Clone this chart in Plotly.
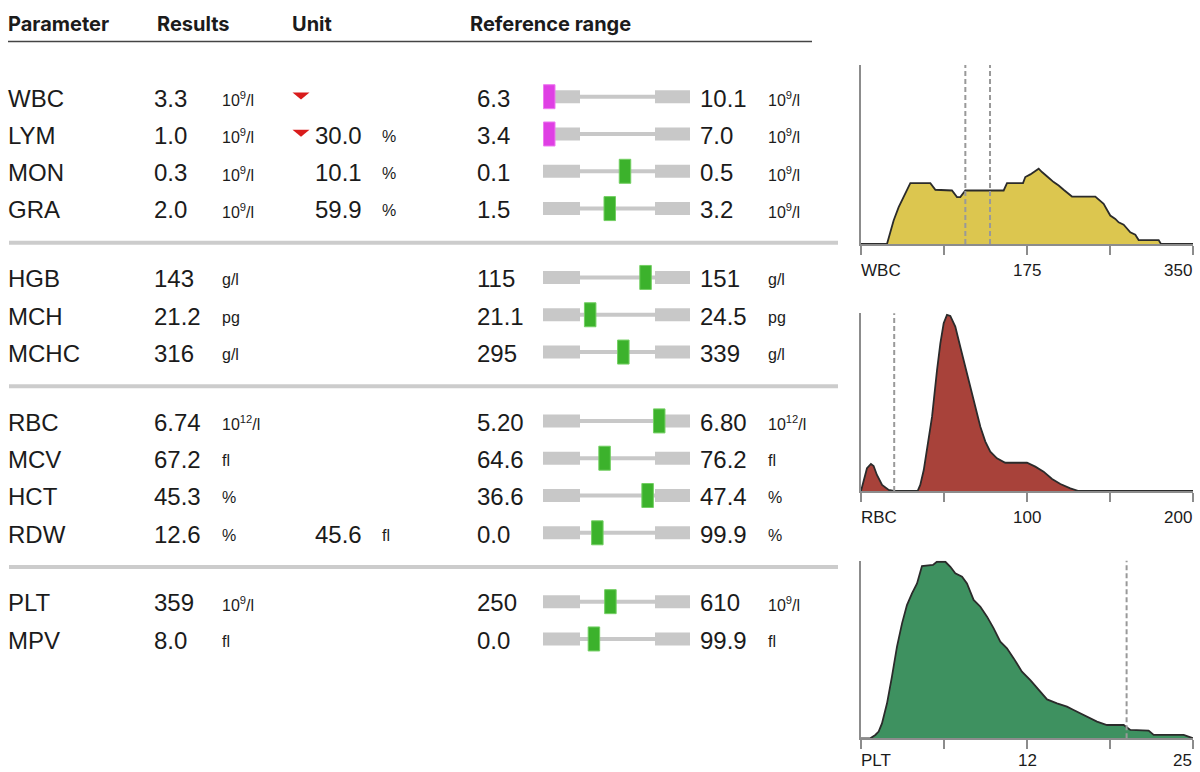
import plotly.graph_objects as go

# ---------------- data ----------------
params = ["WBC", "LYM", "MON", "GRA", "HGB", "MCH", "MCHC",
          "RBC", "MCV", "HCT", "RDW", "PLT", "MPV"]
groups = [0, 0, 0, 0, 1, 1, 1, 2, 2, 2, 2, 3, 3]
results = [3.3, 1.0, 0.3, 2.0, 143, 21.2, 316, 6.74, 67.2, 45.3, 12.6, 359, 8.0]
decimals = [1, 1, 1, 1, 0, 1, 0, 2, 1, 1, 1, 0, 1]
units = ["10<sup>9</sup>/l", "10<sup>9</sup>/l", "10<sup>9</sup>/l", "10<sup>9</sup>/l",
         "g/l", "pg", "g/l", "10<sup>12</sup>/l", "fl", "%", "%", "10<sup>9</sup>/l", "fl"]
second_values = [None, 30.0, 10.1, 59.9, None, None, None, None, None, None, 45.6, None, None]
second_units = [None, "%", "%", "%", None, None, None, None, None, None, "fl", None, None]
ref_low = [6.3, 3.4, 0.1, 1.5, 115, 21.1, 295, 5.20, 64.6, 36.6, 0.0, 250, 0.0]
ref_high = [10.1, 7.0, 0.5, 3.2, 151, 24.5, 339, 6.80, 76.2, 47.4, 99.9, 610, 99.9]

headers = ["Parameter", "Results", "Unit", "Reference range"]

wbc_x = [0, 27.4, 30.9, 34.4, 39.7, 45.0, 48.5, 52.0, 73.1, 78.4, 95.9, 101.2, 104.7, 110.0,
         150.4, 153.9, 170.8, 173.2, 178.5, 182.0, 187.3, 190.8, 194.3, 197.8, 203.1, 208.4,
         213.6, 222.4, 247.0, 250.5, 255.8, 259.3, 262.8, 268.1, 271.6, 276.9, 280.4, 283.9,
         289.2, 292.7, 313.8, 316.3, 350]
wbc_y = [0, 0, 6.5, 13.1, 20.6, 26.2, 29.9, 34.0, 34.0, 30.3, 29.9, 26.2, 26.2, 29.9,
         29.9, 34.0, 34.0, 37.4, 38.9, 40.2, 42.1, 40.2, 38.3, 37.0, 34.6, 32.7,
         30.3, 26.5, 26.5, 24.7, 22.4, 19.1, 15.9, 14.0, 12.1, 10.8, 8.4, 6.5,
         5.2, 2.2, 2.2, 0, 0]
wbc_marks = [110, 136]
wbc_ticks = ["WBC", "175", "350"]

rbc_x = [0, 1.6, 3.6, 6.0, 7.6, 9.6, 12.7, 16.7, 19.7, 34.1, 35.7, 37.8, 40.2, 42.8, 45.8,
         47.8, 49.8, 51.8, 53.8, 56.8, 59.8, 62.8, 65.9, 68.9, 71.9, 74.9, 77.9, 81.9,
         86.9, 100.0, 105.0, 110.0, 115.1, 120.1, 126.1, 131.1, 200]
rbc_y = [0, 6.2, 12.8, 15.2, 14.1, 9.0, 3.4, 0.6, 0, 0, 3.4, 11.8, 25.0, 41.8, 68.1,
         83.1, 94.4, 99.1, 98.5, 92.5, 81.2, 70.0, 58.7, 47.5, 36.2, 27.8, 22.1, 18.4,
         15.9, 15.9, 13.7, 10.9, 6.8, 3.9, 1.5, 0, 0]
rbc_marks = [20]
rbc_ticks = ["RBC", "100", "200"]

plt_x = [0, 0.70, 1.08, 1.33, 1.58, 1.96, 2.33, 2.71, 3.09, 3.46, 3.84, 4.22, 4.59, 5.42,
         5.72, 6.35, 6.73, 7.10, 7.61, 7.98, 8.48, 8.99, 9.49, 9.99, 10.49, 10.99, 11.50,
         12.12, 12.75, 13.50, 14.01, 14.76, 15.51, 16.01, 16.77, 17.77, 18.52, 19.78,
         20.28, 21.66, 22.04, 24.30, 25]
plt_y = [0, 0, 1.9, 3.8, 8.4, 19.7, 34.7, 51.6, 64.7, 75.0, 81.6, 87.2, 97.0, 97.6,
         99.4, 99.4, 96.6, 92.9, 91.0, 87.2, 77.9, 74.1, 68.5, 61.9, 54.4, 50.7, 45.0,
         37.5, 32.8, 26.3, 21.9, 19.7, 17.8, 15.9, 13.1, 9.4, 7.5, 7.5,
         4.7, 4.3, 1.9, 1.9, 0]
plt_marks = [20]
plt_ticks = ["PLT", "12", "25"]

# ---------------- layout constants ----------------
W, H = 1200, 772
ROW_PX = 37.3          # pixel height of one row
FIRST_ROW_PX = 98      # pixel centre of first row
GROUP_GAP = 0.846      # extra rows between groups
TEXT_FONT = "Liberation Sans, Arial, sans-serif"
TXT = "#1b1b1b"
GRAY = "#c8c8c8"

COL_NAME, COL_RES, COL_RES_UNIT, COL_FLAG = 6, 152, 220, 301
COL_SEC, COL_SEC_UNIT, COL_LOW, COL_HIGH, COL_REF_UNIT = 313, 380, 475, 698, 766

# gauge geometry (pixels)
G_LEFT, G_RIGHT = 543, 690
G_IN_L, G_IN_R = 580, 655
F0_PX, PX_PER_F = 588, 74
MARK_W_PX = 11.5

def px_to_f(px):
    return (px - F0_PX) / PX_PER_F

gauge_range = [px_to_f(G_LEFT), px_to_f(G_RIGHT)]
mark_half = MARK_W_PX / 2 / PX_PER_F

# row positions
row_y = [i + GROUP_GAP * g for i, g in enumerate(groups)]
y_top = -FIRST_ROW_PX / ROW_PX
y_bot = y_top + H / ROW_PX

fig = go.Figure()

# ---------------- gauges ----------------
n = len(params)
bar_y = [y - 0.035 for y in row_y]
fig.add_trace(go.Bar(
    orientation="h", y=bar_y, x=[px_to_f(G_IN_R) - px_to_f(G_IN_L)] * n,
    base=[px_to_f(G_IN_L)] * n, width=4 / ROW_PX, marker=dict(color=GRAY, line_width=0),
    xaxis="x2", yaxis="y", hoverinfo="skip", showlegend=False))
fig.add_trace(go.Bar(
    orientation="h", y=bar_y + bar_y,
    x=[px_to_f(G_IN_L) - gauge_range[0]] * n + [gauge_range[1] - px_to_f(G_IN_R)] * n,
    base=[gauge_range[0]] * n + [px_to_f(G_IN_R)] * n,
    width=13 / ROW_PX, marker=dict(color=GRAY, line_width=0),
    xaxis="x2", yaxis="y", hoverinfo="skip", showlegend=False))

pos, cols, lcols = [], [], []
for v, lo, hi in zip(results, ref_low, ref_high):
    f = (v - lo) / (hi - lo)
    fmin = gauge_range[0] + mark_half + 0.5 / PX_PER_F
    fmax = gauge_range[1] - mark_half - 0.5 / PX_PER_F
    out = v < lo or v > hi
    pos.append(min(max(f, fmin), fmax) - mark_half)
    cols.append("#df3fe4" if out else "#3cb22c")
    lcols.append("#ee7af0" if out else "#73cf63")
fig.add_trace(go.Bar(
    orientation="h", y=bar_y, x=[2 * mark_half] * n, base=pos, width=24 / ROW_PX,
    marker=dict(color=cols, line=dict(color=lcols, width=1)),
    xaxis="x2", yaxis="y", hoverinfo="skip", showlegend=False))

# ---------------- flags ----------------
for v, lo, hi, y in zip(results, ref_low, ref_high, row_y):
    if v < lo or v > hi:
        tri_x = [COL_FLAG - 8.5, COL_FLAG + 8.5, COL_FLAG, COL_FLAG - 8.5]
        yy = y - 2 / ROW_PX
        if v < lo:
            tri_y = [yy - 3.5 / ROW_PX, yy - 3.5 / ROW_PX, yy + 3.5 / ROW_PX, yy - 3.5 / ROW_PX]
        else:
            tri_y = [yy + 3.5 / ROW_PX, yy + 3.5 / ROW_PX, yy - 3.5 / ROW_PX, yy + 3.5 / ROW_PX]
        fig.add_trace(go.Scatter(x=tri_x, y=tri_y, mode="lines", fill="toself",
                                 fillcolor="#d91c1c", line=dict(width=0, color="#d91c1c"),
                                 xaxis="x", yaxis="y", hoverinfo="skip", showlegend=False))

# ---------------- table text ----------------
ann = []
def txt(x, y, s, size, anchor="left", xref="x", yref="y", weight="normal", family=TEXT_FONT, yshift=0):
    ann.append(dict(x=x, y=y, xref=xref, yref=yref, text=s, showarrow=False,
                    xanchor=anchor, yanchor="middle", yshift=yshift,
                    font=dict(family=family, size=size, color=TXT, weight=weight)))

BIG, SMALL = 24, 16
for i, y in enumerate(row_y):
    d = decimals[i]
    txt(COL_NAME, y, params[i], BIG)
    txt(COL_RES, y, f"{results[i]:.{d}f}", BIG)
    txt(COL_RES_UNIT, y, units[i], SMALL, yshift=-1)
    if second_values[i] is not None:
        txt(COL_SEC, y, f"{second_values[i]:.1f}", BIG)
        txt(COL_SEC_UNIT, y, second_units[i], SMALL, yshift=-1)
    txt(COL_LOW, y, f"{ref_low[i]:.{d}f}", BIG)
    txt(COL_HIGH, y, f"{ref_high[i]:.{d}f}", BIG)
    txt(COL_REF_UNIT, y, units[i], SMALL, yshift=-1)

HEAD_FONT = "Inter, Lato, sans-serif"
for hx, h in zip([6, 155, 290, 468], headers):
    txt(hx, 1 - 24 / H, h, 20, xref="x", yref="paper", weight="bold", family=HEAD_FONT)

shapes = [dict(type="line", xref="x", yref="paper", x0=8, x1=812,
               y0=1 - 41.5 / H, y1=1 - 41.5 / H, line=dict(color="#444444", width=1.6))]
for k in range(len(row_y) - 1):
    if groups[k] != groups[k + 1]:
        ys = (row_y[k] + row_y[k + 1]) / 2 - 0.04
        shapes.append(dict(type="line", xref="x", yref="y", x0=9, x1=838, y0=ys, y1=ys,
                           line=dict(color="#cccccc", width=4)))

# ---------------- histograms ----------------
hists = [
    (wbc_x, wbc_y, wbc_marks, wbc_ticks, 350, "#dcc64f", (65, 244), -26),
    (rbc_x, rbc_y, rbc_marks, rbc_ticks, 200, "#a8423a", (313.3, 491), -26),
    (plt_x, plt_y, plt_marks, plt_ticks, 25, "#3e9160", (560.7, 738.3), -22),
]
HX0, HX1 = 861, 1193
layout_axes = {}
for k, (hx, hy, marks, ticks, xmax, color, (top, bot), lshift) in enumerate(hists):
    xa, ya = f"x{k + 3}", f"y{k + 3}"
    fig.add_trace(go.Scatter(x=hx, y=hy, mode="lines", fill="tozeroy", fillcolor=color,
                             line=dict(color="#2b2b2b", width=1.8), xaxis=xa, yaxis=ya,
                             hoverinfo="skip", showlegend=False))
    layout_axes[f"xaxis{k + 3}"] = dict(
        domain=[HX0 / W, HX1 / W], range=[0, xmax], anchor=ya, showline=True,
        linecolor="#8c8c8c", linewidth=1.6, ticks="outside", ticklen=9, tickwidth=1.6,
        tickcolor="#8c8c8c", tickvals=[xmax * j / 4 for j in range(5)],
        showticklabels=False, showgrid=False, zeroline=False, fixedrange=True)
    layout_axes[f"yaxis{k + 3}"] = dict(
        domain=[1 - bot / H, 1 - top / H], range=[0, 100], anchor=xa, showline=True,
        linecolor="#8c8c8c", linewidth=1.6, ticks="", showticklabels=False,
        showgrid=False, zeroline=False, fixedrange=True)
    for m in marks:
        shapes.append(dict(type="line", xref=xa, yref=f"{ya} domain", x0=m, x1=m, y0=0, y1=1,
                           line=dict(color="#999999", width=2, dash="5px,3px")))
    for tx, t, anc, xs in zip([0, xmax / 2, xmax], ticks, ["left", "center", "right"], [-2, 0, 1]):
        ann.append(dict(x=tx, y=0, xref=xa, yref=f"{ya} domain", text=t, showarrow=False,
                        xanchor=anc, yanchor="middle", yshift=lshift, xshift=xs,
                        font=dict(family=TEXT_FONT, size=17, color=TXT)))

fig.update_layout(
    width=W, height=H, margin=dict(l=0, r=0, t=0, b=0),
    paper_bgcolor="white", plot_bgcolor="rgba(0,0,0,0)",
    barmode="overlay", showlegend=False,
    xaxis=dict(domain=[0, 1], range=[0, W], visible=False, fixedrange=True),
    yaxis=dict(domain=[0, 1], range=[y_bot, y_top], visible=False, fixedrange=True),
    xaxis2=dict(domain=[G_LEFT / W, G_RIGHT / W], range=gauge_range, anchor="y",
                visible=False, fixedrange=True),
    annotations=ann, shapes=shapes, **layout_axes,
)

fig.write_html("out.html", config={"displayModeBar": False},
               post_script="document.body.style.margin='0px';")
